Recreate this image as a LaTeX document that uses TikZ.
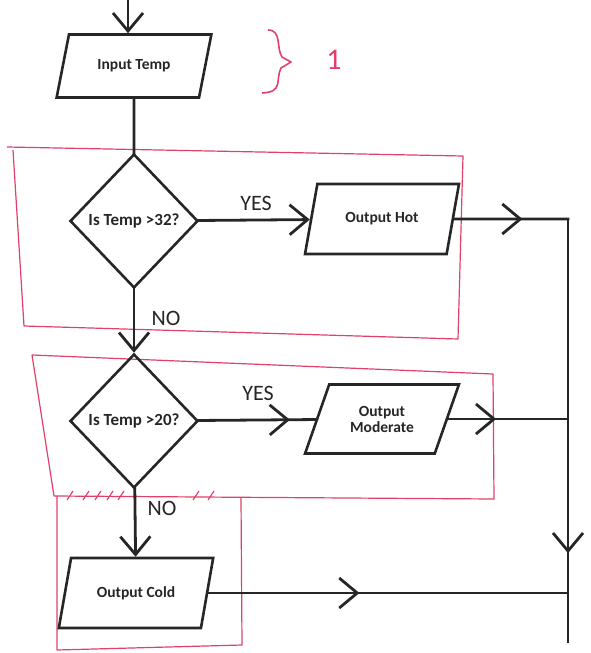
\documentclass[tikz,border=0pt]{standalone}
\usepackage{fontspec}
\setmainfont{Carlito}
\usetikzlibrary{arrows.meta, positioning, shapes.geometric, decorations.markings, calc}
\definecolor{ink}{HTML}{262626}
\definecolor{penred}{HTML}{E0406A}

\begin{document}
\begin{tikzpicture}[x=1pt, y=-1pt,
  io/.style={trapezium, trapezium left angle=61, trapezium right angle=119,
             trapezium stretches=true, draw=ink, line width=2.6pt,
             minimum width=155pt, minimum height=70pt, inner sep=0pt,
             align=center, font=\fontsize{15.5}{16}\selectfont\bfseries, text=ink},
  decide/.style={diamond, draw=ink, line width=2.6pt, minimum width=128pt,
             minimum height=134pt, inner sep=0pt,
             font=\fontsize{17}{17}\selectfont\bfseries, text=ink},
  lbl/.style={font=\fontsize{22}{24}\selectfont, text=ink},
  wire/.style={line width=2.8pt, draw=ink, line cap=rect},
  flow/.style={wire, -{Straight Barb[length=18pt, width=30pt]}},
  midarr/.style={postaction={decorate}, decoration={markings,
             mark=at position #1 with {\arrow[line width=2.8pt]{Straight Barb[length=18pt, width=30pt]}}}},
  redpen/.style={draw=penred, line width=1.2pt, line join=round}
]
\useasboundingbox (0,0) rectangle (590,653);

% red pen marks
\draw[redpen] (7,147) -- (463,156) -- (458,339) -- (24,326) -- (13,150);
\draw[redpen] (32,355) -- (493,374) -- (494,499) -- (54,496) -- cycle;
\draw[redpen] (57,496) -- (57,650) -- (242,645) -- (241,498);
\foreach \tx in {70,86,98,110,121,196,211}
  \draw[redpen] (\tx-3,500) -- (\tx+3,491);
\draw[redpen, line width=1.6pt] (268,30) .. controls (282,30) and (276,48) .. (282,57)
  -- (291,62) -- (281,68) .. controls (275,80) and (284,92) .. (262,93);
\node[text=penred, font=\fontsize{30}{30}\selectfont] (one) at (334,60) {1};

% flow chart
\coordinate (start) at (128,0);
\node[io, minimum height=63pt] (in) at (134,66) {Input Temp};
\node[decide] (d1) at (134,221) {Is Temp >32?};
\node[io] (hot) at (382,219) {Output Hot};
\node[decide] (d2) at (134,421) {Is Temp >20?};
\node[io, minimum height=69pt] (mod) at (382,419) {Output\\Moderate};
\node[io] (cold) at (136,593) {Output Cold};
\coordinate (j1) at (568,219);
\coordinate (rbot) at (568,642);

\node[lbl] (yes1) at (256,203) {YES};
\node[lbl] (no1) at (166,318) {NO};
\node[lbl] (yes2) at (258,393) {YES};
\node[lbl] (no2) at (162,508) {NO};

\draw[flow] (start) -- (start |- in.north);
\draw[wire] (in) -- (d1);
\draw[flow] (d1) -- (hot);
\draw[flow] (d1) -- (d2);
\draw[wire, midarr=0.78] (d2) -- (mod);
\draw[flow] (d2) -- (cold);
\draw[wire, midarr=0.6] (hot.east) -- (j1);
\draw[wire, midarr=0.4] (mod.east) -- (mod.east -| j1);
\draw[wire, midarr=0.42] (cold.east) -- (cold.east -| j1);
\draw[wire, midarr=0.79] (j1) -- (rbot);
\end{tikzpicture}
\end{document}
